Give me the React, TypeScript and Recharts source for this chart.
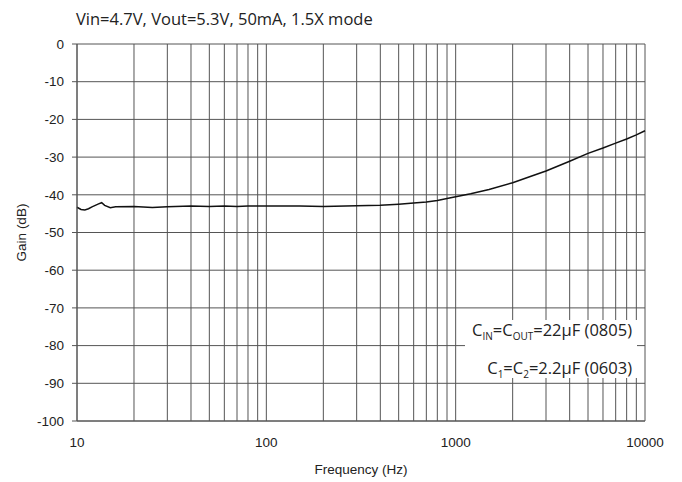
import { LineChart, Line, XAxis, YAxis, CartesianGrid } from "recharts";

const freqHz = [
  10, 10.5, 11, 11.5, 12, 13, 13.5, 14, 15, 16, 20, 25, 30, 40, 50, 60, 70, 80, 100, 150, 200, 300, 400,
  500, 600, 700, 800, 900, 1000, 1200, 1500, 2000, 2500, 3000, 4000, 5000, 6000, 7000, 8000, 9000, 10000,
];
const gainDb = [
  -43.3, -43.9, -44.0, -43.7, -43.2, -42.4, -42.1, -42.8, -43.4, -43.2, -43.1, -43.4, -43.2, -43.0, -43.1,
  -43.0, -43.1, -43.0, -43.0, -43.0, -43.1, -42.9, -42.8, -42.5, -42.2, -41.9, -41.5, -41.0, -40.5, -39.7,
  -38.6, -36.8, -35.1, -33.7, -31.1, -29.0, -27.6, -26.3, -25.2, -24.1, -23.0,
];

const xTicks = [
  10, 20, 30, 40, 50, 60, 70, 80, 90, 100, 200, 300, 400, 500, 600, 700, 800, 900, 1000, 2000, 3000, 4000,
  5000, 6000, 7000, 8000, 9000, 10000,
];
const xLabels = [10, 100, 1000, 10000];
const yTicks = [0, -10, -20, -30, -40, -50, -60, -70, -80, -90, -100];

const data = freqHz.map((f, i) => ({ f, gain: gainDb[i] }));

const tickStyle = { fontSize: 13.5, fill: "#222", fontFamily: "Liberation Sans, Arial, sans-serif" };
const myriad = "'Open Sans', sans-serif";
const subStyle = { fontSize: 10 };

export default function App() {
  return (
    <div style={{ position: "absolute", left: 0, top: 0, width: 682, height: 482, background: "#fff" }}>
      <div
        style={{ position: "absolute", left: 76, top: 7, fontFamily: myriad, fontSize: 16.5, color: "#222", whiteSpace: "nowrap" }}
      >
        Vin=4.7V, Vout=5.3V, 50mA, 1.5X mode
      </div>
      <LineChart width={682} height={482} data={data} margin={{ top: 44, right: 37, bottom: 6, left: 17 }}>
        <CartesianGrid stroke="#555" strokeWidth={1} />
        <XAxis
          dataKey="f"
          type="number"
          scale="log"
          domain={[10, 10000]}
          ticks={xTicks}
          interval={0}
          tickFormatter={(v: number) => (xLabels.includes(v) ? String(v) : "")}
          tickLine={false}
          axisLine={{ stroke: "#555" }}
          tick={tickStyle}
          tickMargin={10}
          height={55}
          label={{ value: "Frequency (Hz)", position: "insideBottom", offset: 2, style: tickStyle }}
        />
        <YAxis
          type="number"
          domain={[-100, 0]}
          ticks={yTicks}
          interval={0}
          tick={tickStyle}
          tickLine={{ stroke: "#555" }}
          tickSize={5}
          tickMargin={8}
          axisLine={{ stroke: "#555" }}
          width={60}
          label={{ value: "Gain (dB)", angle: -90, position: "insideLeft", offset: 4, style: { ...tickStyle, textAnchor: "middle" } }}
        />
        <Line dataKey="gain" stroke="#111" strokeWidth={1.5} dot={false} type="linear" isAnimationActive={false} />
      </LineChart>
      <div
        style={{
          position: "absolute",
          left: 465,
          top: 320,
          width: 172,
          height: 58,
          background: "#fff",
          fontFamily: myriad,
          fontSize: 16.5,
          color: "#222",
          textAlign: "right",
          lineHeight: "31px",
          boxSizing: "border-box",
          paddingRight: 5,
          whiteSpace: "nowrap",
        }}
      >
        <div style={{ position: "relative", top: -6 }}>
          <div>
            C<sub style={subStyle}>IN</sub>=C<sub style={subStyle}>OUT</sub>=22µF (0805)
          </div>
          <div>
            C<sub style={subStyle}>1</sub>=C<sub style={subStyle}>2</sub>=2.2µF (0603)
          </div>
        </div>
      </div>
    </div>
  );
}
